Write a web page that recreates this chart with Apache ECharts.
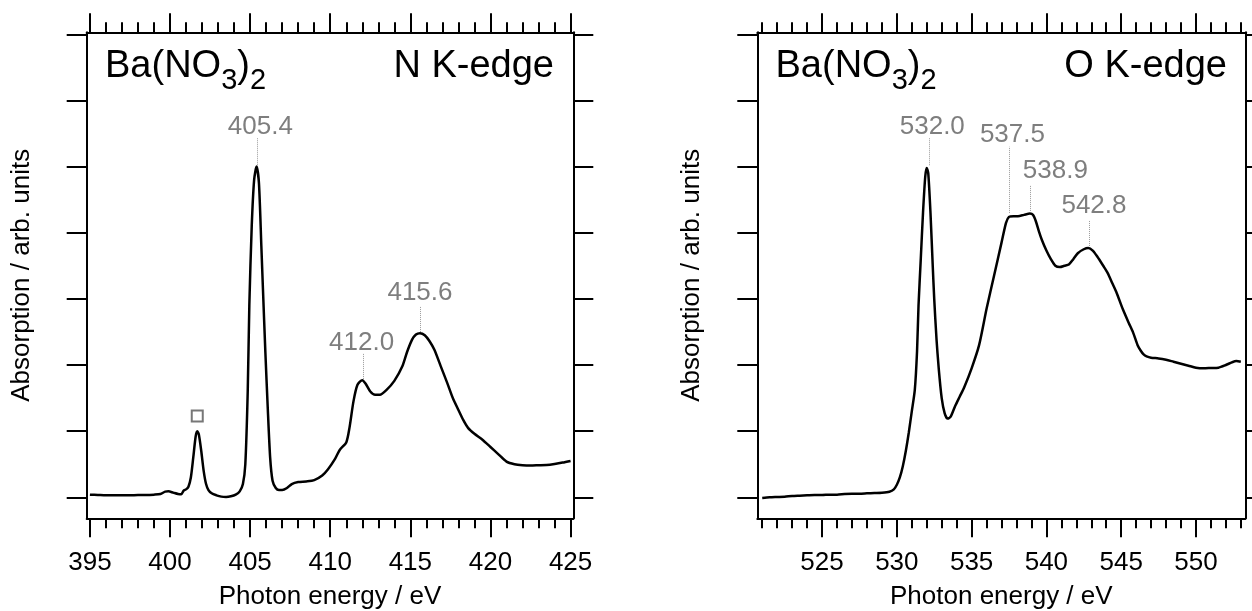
<!DOCTYPE html>
<html>
<head>
<meta charset="utf-8">
<title>Ba(NO3)2 N and O K-edge</title>
<script src="https://cdn.jsdelivr.net/npm/echarts@6/dist/echarts.min.js"></script>
<style>
  html, body { margin: 0; padding: 0; background: #fff; }
  #chart { width: 1252px; height: 611px; }
</style>
</head>
<body>
<div id="chart"></div>
<script>
// N K-edge spectrum
const nEnergy = [395.0, 395.5, 396.0, 396.5, 397.0, 397.5, 398.0, 398.5, 399.0, 399.4, 399.7, 399.9,
  400.2, 400.5, 400.7, 400.85, 401.0, 401.15, 401.3, 401.45, 401.6, 401.7, 401.8, 401.95, 402.1,
  402.25, 402.4, 402.6, 402.9, 403.2, 403.5, 403.8, 404.1, 404.35, 404.55, 404.7, 404.85, 404.95,
  405.1, 405.25, 405.4, 405.55, 405.7, 405.8, 405.95, 406.1, 406.25, 406.4, 406.6, 406.8, 407.0,
  407.3, 407.6, 408.0, 408.5, 409.0, 409.5, 409.85, 410.3, 410.6, 411.0, 411.2, 411.45, 411.7,
  412.0, 412.2, 412.5, 412.8, 413.1, 413.5, 414.0, 414.5, 414.8, 415.1, 415.35, 415.6, 415.9,
  416.2, 416.5, 416.9, 417.3, 417.65, 418.0, 418.3, 418.6, 419.0, 419.5, 420.0, 420.5, 421.0,
  421.5, 422.0, 422.5, 423.0, 423.5, 424.0, 424.5, 425.0];
const nAbsorption = [0.04, 0.035, 0.03, 0.03, 0.03, 0.03, 0.035, 0.035, 0.04, 0.05, 0.085, 0.09,
  0.07, 0.05, 0.045, 0.1, 0.12, 0.16, 0.3, 0.6, 0.92, 1.0, 0.95, 0.7, 0.4,
  0.2, 0.11, 0.06, 0.03, 0.01, 0.005, 0.015, 0.04, 0.09, 0.2, 0.5, 1.6, 2.9,
  4.1, 4.8, 5.0, 4.75, 3.8, 3.15, 2.2, 1.35, 0.6, 0.25, 0.14, 0.11, 0.11,
  0.14, 0.2, 0.23, 0.24, 0.26, 0.33, 0.42, 0.58, 0.72, 0.83, 1.05, 1.45, 1.7,
  1.77, 1.72, 1.6, 1.55, 1.55, 1.62, 1.76, 1.98, 2.2, 2.38, 2.46, 2.48, 2.45,
  2.36, 2.23, 1.98, 1.73, 1.5, 1.32, 1.17, 1.05, 0.96, 0.87, 0.76, 0.65, 0.54,
  0.5, 0.485, 0.48, 0.485, 0.49, 0.505, 0.525, 0.55];

// O K-edge spectrum
const oEnergy = [521.0, 521.5, 522.0, 522.5, 523.0, 523.5, 524.0, 524.5, 525.0, 525.5, 526.0, 526.5,
  527.0, 527.5, 528.0, 528.5, 529.0, 529.5, 529.8, 530.0, 530.2, 530.4, 530.6, 530.8, 531.0,
  531.2, 531.35, 531.45, 531.6, 531.75, 531.9, 532.0, 532.1, 532.25, 532.4, 532.5, 532.65, 532.8,
  533.0, 533.2, 533.4, 533.6, 533.9, 534.2, 534.5, 535.0, 535.5, 536.0, 536.5, 537.0, 537.3,
  537.5, 537.8, 538.1, 538.5, 538.9, 539.1, 539.3, 539.5, 539.7, 540.0, 540.3,
  540.6, 540.9, 541.2, 541.5, 541.8, 542.1, 542.5, 542.8, 543.1, 543.4, 543.8, 544.1, 544.4,
  544.7, 545.1, 545.5, 545.8, 546.1, 546.3, 546.5, 546.7, 547.0, 547.5, 548.0, 548.5, 549.0,
  549.5, 550.0, 550.5, 551.0, 551.5, 552.0, 552.4, 552.7, 553.0];
const oAbsorption = [-0.01, 0.0, 0.005, 0.01, 0.02, 0.025, 0.03, 0.035, 0.035, 0.04, 0.04, 0.05,
  0.055, 0.055, 0.06, 0.065, 0.07, 0.085, 0.12, 0.19, 0.3, 0.47, 0.7, 0.98, 1.3,
  1.62, 2.2, 2.9, 3.6, 4.3, 4.85, 4.98, 4.9, 4.3, 3.5, 3.0, 2.4, 1.95,
  1.5, 1.27, 1.19, 1.22, 1.38, 1.52, 1.66, 1.95, 2.3, 2.85, 3.35, 3.85, 4.15,
  4.24, 4.25, 4.25, 4.27, 4.29, 4.27, 4.17, 4.02, 3.89, 3.73, 3.6,
  3.5, 3.48, 3.5, 3.52, 3.6, 3.69, 3.75, 3.77, 3.73, 3.64, 3.5, 3.39, 3.24,
  3.09, 2.85, 2.64, 2.49, 2.3, 2.22, 2.16, 2.13, 2.11, 2.1, 2.08, 2.05, 2.02,
  1.99, 1.96, 1.95, 1.955, 1.96, 2.0, 2.04, 2.06, 2.05];

// peak annotations
const nPeakNames = ['405.4', '412.0', '415.6'];
const nLabelX = [405.64, 411.96, 415.6];
const nLabelY = [5.6, 2.34, 3.09];
const nGuideX = [405.45, 412.03, 415.6];
const nGuideTop = [5.43, 2.18, 2.89];
const nGuideBottom = [5.02, 1.79, 2.5];
const nMarkerX = [401.7];
const nMarkerY = [1.23];

const oPeakNames = ['532.0', '537.5', '538.9', '542.8'];
const oLabelX = [532.37, 537.73, 540.6, 543.18];
const oLabelY = [5.6, 5.48, 4.94, 4.41];
const oGuideX = [532.15, 537.5, 538.95, 542.85];
const oGuideTop = [5.43, 5.3, 4.72, 4.19];
const oGuideBottom = [5.02, 4.3, 4.33, 3.8];

// ticks
const nMajorTicks = [395, 400, 405, 410, 415, 420, 425];
const nMinorTicks = [396, 397, 398, 399, 401, 402, 403, 404, 406, 407, 408, 409, 411, 412, 413, 414,
  416, 417, 418, 419, 421, 422, 423, 424];
const oMajorTicks = [525, 530, 535, 540, 545, 550];
const oMinorTicks = [521, 522, 523, 524, 526, 527, 528, 529, 531, 532, 533, 534, 536, 537, 538, 539,
  541, 542, 543, 544, 546, 547, 548, 549, 551, 552, 553];
const yTicks = [0, 1, 2, 3, 4, 5, 6, 7];

const FONT = "'Liberation Sans', Arial, Helvetica, sans-serif";
const axisColor = '#000';

const zip = (xs, ys) => xs.map((x, i) => [x, ys[i]]);

const xAxisPair = (grid, min, max, major, minor, position, withLabels) => {
  const base = {
    type: 'value', gridIndex: grid, min: min, max: max, position: position,
    splitLine: { show: false },
  };
  return [
    Object.assign({}, base, {
      axisLine: { show: true, onZero: false, lineStyle: { color: axisColor, width: 2 } },
      axisTick: { show: true, customValues: major, length: 19, lineStyle: { color: axisColor, width: 2 } },
      axisLabel: {
        show: withLabels, customValues: major, margin: 32,
        color: '#000', fontSize: 26, fontFamily: FONT,
      },
      name: withLabels ? 'Photon energy / eV' : '',
      nameLocation: 'middle', nameGap: 66,
      nameTextStyle: { color: '#000', fontSize: 26, fontFamily: FONT },
    }),
    Object.assign({}, base, {
      axisLine: { show: false, onZero: false },
      axisTick: { show: true, customValues: minor, length: 10, lineStyle: { color: axisColor, width: 2 } },
      axisLabel: { show: false, customValues: minor },
    }),
  ];
};

const yAxisOf = (grid, position, withName) => ({
  type: 'value', gridIndex: grid, min: -0.3175, max: 7.03, position: position,
  splitLine: { show: false },
  axisLine: { show: true, onZero: false, lineStyle: { color: axisColor, width: 2 } },
  axisTick: { show: true, customValues: yTicks, length: 20, lineStyle: { color: axisColor, width: 2 } },
  axisLabel: { show: false, customValues: yTicks },
  name: withName ? 'Absorption / arb. units' : '',
  nameLocation: 'middle', nameGap: 52,
  nameTextStyle: { color: '#000', fontSize: 26, fontFamily: FONT },
});

const guideLines = (xs, tops, bottoms) => xs.map((x, i) => [
  { coord: [x, bottoms[i]] }, { coord: [x, tops[i]] },
]);

const peakLabels = (names, xs, ys) => names.map((n, i) => ({ name: n, value: [xs[i], ys[i]] }));

const spectrum = (data, xIdx, yIdx, guides) => ({
  type: 'line', xAxisIndex: xIdx, yAxisIndex: yIdx, data: data,
  showSymbol: false, smooth: 0.25, clip: true,
  lineStyle: { color: '#000', width: 2.5 },
  markLine: {
    silent: true, symbol: ['none', 'none'], label: { show: false },
    lineStyle: { type: 'dotted', color: '#9a9a9a', width: 1 },
    data: guides,
  },
});

const labelSeries = (data, xIdx, yIdx) => ({
  type: 'scatter', xAxisIndex: xIdx, yAxisIndex: yIdx, data: data,
  symbolSize: 1, itemStyle: { color: 'transparent' }, silent: true,
  label: { show: true, position: 'inside', formatter: '{b}', color: '#5e5e5e', fontSize: 26, fontFamily: FONT },
});

const titleRich = {
  m: { fill: '#000', fontSize: 38, fontFamily: FONT, lineHeight: 38, verticalAlign: 'top' },
  s: { fill: '#000', fontSize: 29, fontFamily: FONT, lineHeight: 29, verticalAlign: 'top', padding: [18, 0, 0, 0] },
};

const chart = echarts.init(document.getElementById('chart'));
chart.setOption({
  animation: false,
  backgroundColor: '#fff',
  grid: [
    { left: 86.7, top: 32.3, width: 486.6, height: 486, outerBoundsMode: 'none' },
    { left: 757.3, top: 32.3, width: 488, height: 486, outerBoundsMode: 'none' },
  ],
  xAxis: [
    ...xAxisPair(0, 394.8, 425.17, nMajorTicks, nMinorTicks, 'bottom', true),
    ...xAxisPair(0, 394.8, 425.17, nMajorTicks, nMinorTicks, 'top', false),
    ...xAxisPair(1, 520.67, 553.3, oMajorTicks, oMinorTicks, 'bottom', true),
    ...xAxisPair(1, 520.67, 553.3, oMajorTicks, oMinorTicks, 'top', false),
  ],
  yAxis: [
    yAxisOf(0, 'left', true),
    yAxisOf(0, 'right', false),
    yAxisOf(1, 'left', true),
    yAxisOf(1, 'right', false),
  ],
  series: [
    spectrum(zip(nEnergy, nAbsorption), 0, 0, guideLines(nGuideX, nGuideTop, nGuideBottom)),
    labelSeries(peakLabels(nPeakNames, nLabelX, nLabelY), 0, 0),
    {
      type: 'scatter', xAxisIndex: 0, yAxisIndex: 0, data: zip(nMarkerX, nMarkerY),
      symbol: 'rect', symbolSize: [11, 11], silent: true,
      itemStyle: { color: 'transparent', borderColor: '#555', borderWidth: 2 },
    },
    spectrum(zip(oEnergy, oAbsorption), 4, 2, guideLines(oGuideX, oGuideTop, oGuideBottom)),
    labelSeries(peakLabels(oPeakNames, oLabelX, oLabelY), 4, 2),
  ],
  graphic: [
    { type: 'text', x: 105, y: 48, style: { text: '{m|Ba(NO}{s|3}{m|)}{s|2}', rich: titleRich, align: 'left', verticalAlign: 'top' } },
    { type: 'text', x: 554, y: 48, style: { text: 'N K-edge', fill: '#000', fontSize: 38, fontFamily: FONT, align: 'right', verticalAlign: 'top' } },
    { type: 'text', x: 775.5, y: 48, style: { text: '{m|Ba(NO}{s|3}{m|)}{s|2}', rich: titleRich, align: 'left', verticalAlign: 'top' } },
    { type: 'text', x: 1227, y: 48, style: { text: 'O K-edge', fill: '#000', fontSize: 38, fontFamily: FONT, align: 'right', verticalAlign: 'top' } },
  ],
});
</script>
</body>
</html>
